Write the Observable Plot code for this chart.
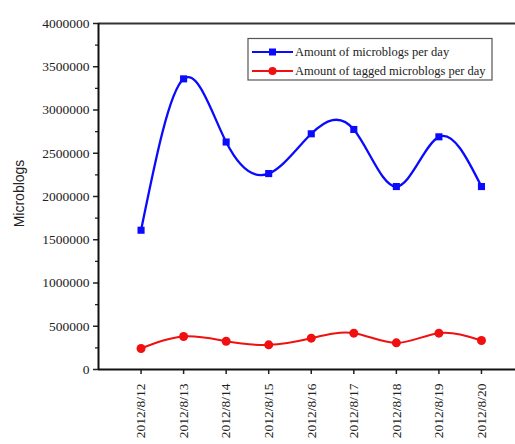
<!DOCTYPE html>
<html>
<head>
<meta charset="utf-8">
<script src="https://cdn.jsdelivr.net/npm/d3@7"></script>
<script src="https://cdn.jsdelivr.net/npm/@observablehq/plot@0.6"></script>
<style>
  body { margin: 0; background: #fff; }
  #wrap { position: relative; width: 515px; height: 444px; overflow: hidden; }
  #legend { position: absolute; left: 0; top: 0; pointer-events: none; }
</style>
</head>
<body>
<div id="wrap"></div>
<script>
// Daily counts, 12–20 August 2012
const days = ["2012/8/12", "2012/8/13", "2012/8/14", "2012/8/15", "2012/8/16",
              "2012/8/17", "2012/8/18", "2012/8/19", "2012/8/20"];
const microblogs = [1610000, 3360000, 2630000, 2265000, 2725000, 2775000, 2115000, 2690000, 2115000];
const tagged = [243000, 382000, 327000, 285000, 362000, 420000, 308000, 420000, 335000];
const yTicks = [0, 500000, 1000000, 1500000, 2000000, 2500000, 3000000, 3500000, 4000000];
const yMinor = [250000, 750000, 1250000, 1750000, 2250000, 2750000, 3250000, 3750000];

const seriesNames = ["Amount of microblogs per day", "Amount of tagged microblogs per day"];
const seriesColors = ["#0a0aff", "#f01010"];

const total = days.map((d, i) => ({i, v: microblogs[i]}));
const tag = days.map((d, i) => ({i, v: tagged[i]}));

const serif = "'Liberation Serif', 'Times New Roman', serif";

const chart = Plot.plot({
  width: 515,
  height: 444,
  marginLeft: 98,
  marginRight: 0,
  marginTop: 23,
  marginBottom: 75,
  style: {fontSize: "13px", color: "#222", background: "#fff"},
  x: {domain: [-1, 8.8], axis: null},
  y: {domain: [0, 4000000], axis: null},
  marks: [
    // y axis: major ticks with labels, minor ticks between
    Plot.axisY({ticks: yTicks, tickSize: 5, tickPadding: 4, tickFormat: d => String(d),
                label: null, strokeWidth: 1.5, fontSize: 13.5}),
    Plot.axisY({ticks: yMinor, tickSize: 3, tickFormat: () => "", label: null, strokeWidth: 1.3}),
    Plot.text(["Microblogs"], {frameAnchor: "left", textAnchor: "middle", dx: -79, dy: -3, rotate: -90,
                               fontFamily: "Liberation Sans, Arial, sans-serif", fontSize: 14, fill: "#222"}),
    // x axis: one tick per day, rotated date labels
    Plot.axisX({ticks: d3.range(days.length), tickFormat: i => days[i], tickSize: 5, tickPadding: 9,
                tickRotate: -90, label: null, strokeWidth: 1.5, fontSize: 13.5}),
    // frame lines
    Plot.ruleY([0], {stroke: "#111", strokeWidth: 2}),
    Plot.ruleY([4000000], {stroke: "#333", strokeWidth: 2}),
    Plot.ruleX([-1], {stroke: "#111", strokeWidth: 2}),
    // series
    Plot.line(total, {x: "i", y: "v", curve: "natural", stroke: seriesColors[0], strokeWidth: 2.3}),
    Plot.dot(total, {x: "i", y: "v", symbol: "square", r: 4, fill: seriesColors[0]}),
    Plot.line(tag, {x: "i", y: "v", curve: "natural", stroke: seriesColors[1], strokeWidth: 2}),
    Plot.dot(tag, {x: "i", y: "v", symbol: "circle", r: 4.5, fill: seriesColors[1]})
  ]
});

// tick labels set in a serif face
d3.select(chart).selectAll("g[aria-label$='tick label'] text")
  .style("font-family", serif);

const wrap = document.getElementById("wrap");
wrap.appendChild(chart);

// Boxed legend in the upper right of the plot area
const lg = d3.select(wrap).append("svg")
  .attr("id", "legend").attr("width", 515).attr("height", 444);
lg.append("rect").attr("x", 248).attr("y", 38.5).attr("width", 244).attr("height", 41.5)
  .attr("fill", "#fff").attr("stroke", "#555").attr("stroke-width", 1.2);
seriesNames.forEach((name, k) => {
  const y = 52 + k * 19;
  lg.append("line").attr("x1", 252).attr("x2", 293).attr("y1", y).attr("y2", y)
    .attr("stroke", seriesColors[k]).attr("stroke-width", 2);
  if (k === 0) {
    lg.append("rect").attr("x", 269).attr("y", y - 3.5).attr("width", 7).attr("height", 7).attr("fill", seriesColors[k]);
  } else {
    lg.append("circle").attr("cx", 272.5).attr("cy", y).attr("r", 4).attr("fill", seriesColors[k]);
  }
  lg.append("text").attr("x", 295).attr("y", y).attr("dy", "0.35em")
    .style("font-family", serif).attr("font-size", 12.5).attr("fill", "#222").text(name);
});
</script>
</body>
</html>
